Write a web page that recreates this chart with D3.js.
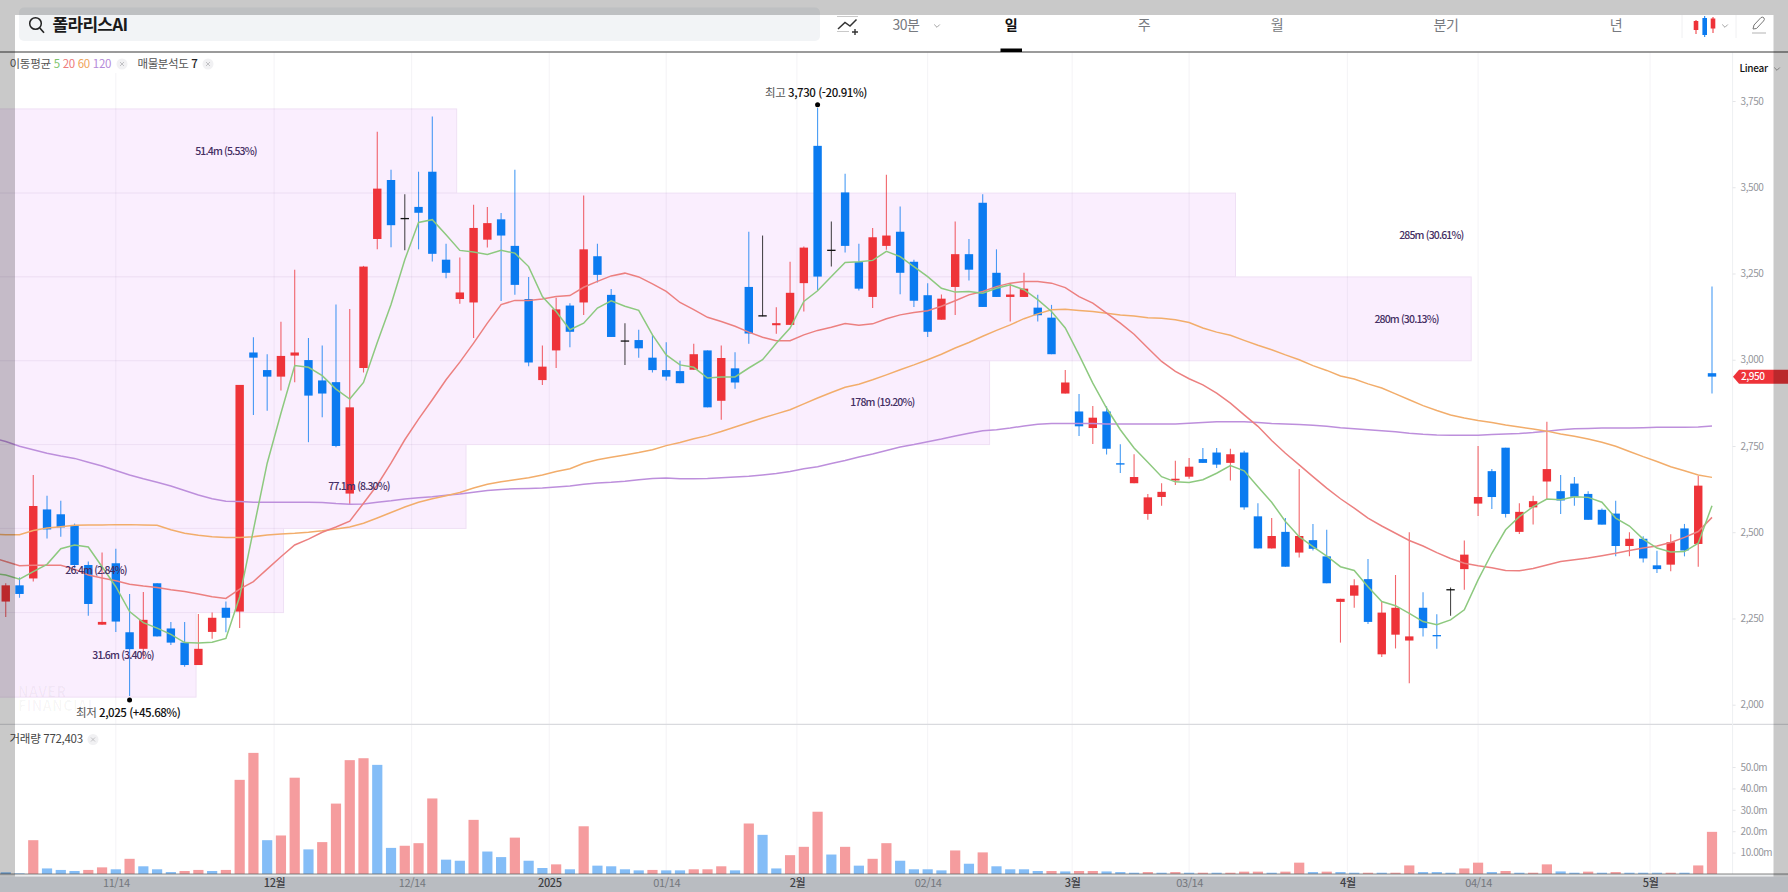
<!DOCTYPE html>
<html lang="ko"><head><meta charset="utf-8">
<script src="https://cdnjs.cloudflare.com/ajax/libs/d3/7.8.5/d3.min.js"></script>
<style>
html,body{margin:0;padding:0;background:#fff;overflow:hidden}
svg{display:block}
text{font-family:"Noto Sans CJK KR","Noto Sans",sans-serif}
.tick line{stroke:#e4e5e8}
.domain{stroke:#eef0f2}
</style></head><body><div id="chart"></div>
<script>
// ---- candle data (price), index 0..124
const opens=[2299,2346,2366,2566,2552,2521,2405,2232,2410,2210,
2162,2352,2221,2180,2115,2211,2281,2270,3021,2970,
2951,3012,2999,2940,2935,2612,2976,3350,3521,3411,
3443,3545,3290,3176,3166,3348,3407,3330,3176,2941,
3027,3157,3166,3300,3188,3056,3057,3006,2970,2967,
2971,3027,2881,2975,3211,3129,3100,3101,3222,3620,
3319,3485,3283,3182,3330,3371,3284,3187,3116,3211,
3306,3455,3252,3182,3182,3151,3122,2902,2850,2802,
2850,2700,2642,2553,2602,2650,2661,2712,2731,2701,
2731,2546,2453,2501,2441,2477,2430,2298,2316,2364,
2146,2203,2186,2281,2202,2335,2393,2583,2677,2745,
2501,2572,2647,2619,2641,2611,2565,2554,2460,2481,
2404,2406,2511,2466,2961];
const highs=[2352,2369,2666,2606,2591,2525,2415,2441,2452,2321,
2327,2352,2240,2240,2263,2267,2299,2927,3065,3016,
3110,3261,3063,3041,3160,3147,3272,3661,3551,3480,
3545,3705,3336,3296,3449,3443,3425,3551,3240,3041,
3180,3164,3476,3336,3205,3106,3087,3072,3051,2997,
3046,3027,3041,3022,3371,3360,3152,3284,3328,3730,
3401,3539,3336,3382,3536,3444,3290,3222,3189,3401,
3350,3480,3320,3221,3252,3188,3159,2970,2901,2866,
2865,2755,2726,2611,2642,2707,2715,2744,2744,2742,
2736,2584,2541,2541,2683,2524,2507,2307,2364,2422,
2300,2376,2500,2326,2262,2340,2476,2750,2683,2745,
2584,2606,2820,2666,2660,2619,2569,2591,2500,2488,
2446,2494,2524,2664,3212];
const lows=[2254,2310,2357,2482,2487,2396,2258,2232,2211,2025,
2132,2198,2173,2110,2115,2191,2210,2222,2840,2852,
2911,2935,2761,2833,2746,2581,2963,3320,3326,3317,
3320,3285,3236,3162,3063,3325,3170,3188,2981,2927,
2976,3036,3130,3224,3066,2985,3006,2963,2940,2932,
2971,2862,2826,2916,3046,3126,3075,3101,3140,3201,
3270,3311,3201,3150,3319,3190,3153,3066,3116,3130,
3230,3153,3182,3111,3182,3111,3016,2902,2779,2756,
2725,2672,2642,2536,2577,2637,2655,2701,2686,2650,
2565,2453,2453,2400,2427,2447,2352,2180,2281,2234,
2138,2163,2062,2198,2162,2258,2333,2547,2567,2543,
2495,2522,2594,2553,2577,2536,2522,2430,2430,2412,
2382,2387,2430,2400,2902];
const closes=[2346,2321,2576,2508,2514,2405,2292,2240,2241,2161,
2246,2198,2180,2115,2162,2252,2252,2927,3006,2951,
3011,3021,2896,2902,2750,2862,3270,3496,3390,3411,
3426,3307,3252,3195,3382,3396,3360,3217,2992,2980,
3146,3081,3320,3246,3066,3056,3033,2970,2951,2932,
3016,2862,3005,2934,3076,3129,3106,3194,3325,3241,
3319,3330,3206,3355,3360,3252,3171,3081,3177,3306,
3261,3153,3182,3189,3206,3129,3016,2934,2807,2832,
2742,2696,2660,2601,2617,2655,2690,2701,2696,2726,
2572,2453,2489,2400,2489,2452,2352,2307,2346,2240,
2267,2281,2198,2222,2199,2335,2435,2602,2602,2553,
2559,2590,2683,2592,2603,2536,2522,2460,2481,2424,
2393,2471,2447,2635,2951];

// ---- moving averages, index -1..124
const ma5=[2381,2376,2364,2386,2407,2452,2463,2457,2400,2342,2270,
2238,2222,2204,2180,2179,2181,2192,2313,2507,2700,
2845,2983,2978,2954,2915,2886,2934,3050,3160,3290,
3398,3406,3362,3317,3312,3305,3317,3309,3270,3183,
3140,3087,3106,3150,3171,3155,3143,3072,3014,2985,
2978,2947,2950,2950,2976,3000,3048,3092,3169,3200,
3241,3282,3284,3288,3314,3299,3270,3241,3207,3196,
3198,3193,3207,3217,3203,3174,3140,3092,3014,2932,
2860,2797,2744,2703,2661,2646,2644,2652,2671,2693,
2678,2632,2587,2531,2487,2458,2431,2400,2389,2342,
2299,2287,2265,2241,2232,2246,2275,2362,2439,2507,
2545,2574,2596,2594,2603,2601,2587,2541,2518,2480,
2454,2443,2444,2468,2577];
const ma20=[2428,2415,2403,2404,2404,2404,2393,2376,2367,2359,2349,
2344,2340,2333,2328,2321,2313,2308,2335,2357,2393,
2429,2463,2480,2500,2515,2532,2584,2637,2700,2768,
2828,2884,2942,2993,3048,3106,3160,3172,3172,3176,
3183,3186,3210,3227,3243,3251,3240,3220,3198,3166,
3145,3123,3111,3097,3080,3065,3055,3055,3072,3085,
3094,3105,3100,3104,3119,3130,3137,3142,3155,3171,
3188,3198,3212,3222,3227,3227,3222,3209,3183,3164,
3135,3106,3074,3034,2995,2966,2945,2927,2903,2874,
2840,2807,2766,2729,2695,2661,2628,2597,2570,2541,
2518,2497,2476,2460,2441,2424,2410,2403,2397,2389,
2388,2395,2405,2415,2420,2425,2432,2439,2447,2454,
2460,2470,2485,2502,2543];
const ma60=[2494,2493,2493,2505,2512,2516,2520,2521,2521,2522,2522,
2521,2520,2507,2497,2491,2487,2485,2485,2487,2492,
2495,2497,2500,2504,2509,2515,2526,2541,2557,2573,
2587,2597,2606,2615,2628,2639,2646,2652,2658,2666,
2676,2684,2700,2710,2717,2724,2731,2739,2751,2760,
2771,2780,2792,2805,2818,2831,2843,2855,2872,2889,
2905,2920,2929,2942,2956,2971,2985,3000,3016,3034,
3050,3068,3085,3101,3119,3133,3145,3146,3143,3140,
3135,3130,3127,3122,3120,3116,3108,3092,3080,3071,
3056,3042,3029,3014,3000,2983,2969,2953,2944,2930,
2918,2901,2884,2867,2853,2840,2831,2824,2818,2811,
2805,2799,2793,2785,2778,2770,2761,2749,2734,2719,
2705,2690,2678,2666,2659];
const ma120=[2773,2763,2749,2739,2729,2721,2714,2703,2692,2679,2666,
2655,2645,2634,2621,2608,2597,2590,2589,2587,2587,
2587,2587,2587,2586,2583,2581,2582,2587,2591,2596,
2600,2603,2607,2611,2616,2621,2624,2626,2627,2628,
2631,2634,2639,2643,2645,2648,2652,2656,2657,2655,
2655,2656,2658,2660,2662,2666,2670,2676,2684,2690,
2699,2708,2718,2727,2737,2747,2754,2762,2770,2779,
2787,2794,2797,2802,2808,2813,2815,2815,2815,2815,
2814,2814,2814,2814,2814,2814,2816,2818,2820,2820,
2820,2818,2815,2814,2812,2810,2807,2803,2800,2797,
2794,2791,2787,2784,2782,2781,2781,2781,2783,2785,
2786,2789,2793,2797,2800,2801,2802,2802,2802,2803,
2804,2804,2804,2805,2808];

// ---- volume (millions) and bar direction
const volumes=[.8,.3,15.8,2.6,1.9,1.4,1.9,3.1,2.2,7.1,
3.6,2.2,.9,1.4,1.9,1.4,1.9,44,56.6,15.8,
18,45,11.5,14.9,32.9,53.2,54.1,51,12.2,13.2,
14.4,35.3,6.7,6.2,25.3,10.5,7.9,17,6.2,2.8,
4.5,2.2,22.3,3.9,3.6,2.2,1.7,1.9,1.7,1.7,
2.2,2.2,3.6,1.7,23.6,18.3,2.6,8.8,12.7,29.1,
9.1,12.7,3.9,7.1,14.4,6.2,2.2,2.2,1.7,11,
4.8,10.1,3.6,2.2,2.2,1.4,1.4,1.2,1.4,1.4,
1.2,.9,.6,.9,.6,.9,.6,.6,.6,.6,
1.1,1.1,.6,1.1,5.3,.9,1.1,.9,.6,.6,
.6,.6,4,.9,.9,.6,2.6,5.3,.9,1.4,
.6,.6,4.5,1.2,.6,1.1,.6,.9,.6,.6,
.6,.6,.6,4,19.7];
const volDir="bbrbbbrrbr"+"bbbrrbrrrb"+"rrbrrrrbbr"+"rrbbrbbrbb"+"rbrbbbbrbb"+"rrrbrbbrrr"+"brbrrbbbbr"+"brbbbbrbrr"+"bbbrbrbrbr"+"rrbrrbrbbr"+"brrbbbrrbr"+"brrbbrbrbb"+"brbrr";

// ---- volume profile bins
const binEdges=[3727,3483,3240,2997,2754,2511,2267,2022];
const binEnd=[32.77,89.37,106.5,71.5,33.45,20.19,13.83];
const binLabelAt=[16,103.6,101.8,63.7,25.67,6.56,8.52];
const binLabels=["51.4m (5.53%)","285m (30.61%)","280m (30.13%)","178m (19.20%)","77.1m (8.30%)","26.4m (2.84%)","31.6m (3.40%)"];

// ---- axes
const priceTicks=[2000,2250,2500,2750,3000,3250,3500,3750];
const volTicks=[10,20,30,40,50];
const volTickLabels=["10.00m","20.0m","30.0m","40.0m","50.0m"];
const dateTicks=[8,19.5,29.5,39.5,48,57.5,67,77.5,86,97.5,107,119.5];
const dateLabels=["11/14","12월","12/14","2025","01/14","2월","02/14","3월","03/14","4월","04/14","5월"];
const dateStrong=[0,1,0,1,0,1,0,1,0,1,0,1];
const periods=[["30분",906],["일",1011],["주",1144],["월",1277],["분기",1446],["년",1616]];

const W=1788,H=892;
const svg=d3.select("#chart").append("svg").attr("width",W).attr("height",H);
const x=d3.scaleLinear().domain([0,124]).range([5.74,1712]);
const y=d3.scaleLinear().domain([2000,3750]).range([704.7,101]);
const v=d3.scaleLinear().domain([0,50]).range([874,767]);
const RED="#ee3339",BLUE="#0b7bf0";

svg.append("rect").attr("width",W).attr("height",H).attr("fill","#fff");

// volume profile boxes
const prof=svg.append("g");
prof.selectAll("rect").data(binEnd).join("rect")
 .attr("x",-2).attr("y",(d,i)=>y(binEdges[i]))
 .attr("width",d=>x(d)+2).attr("height",(d,i)=>y(binEdges[i+1])-y(binEdges[i]))
 .attr("fill","#faeefe").attr("stroke","#efe0f5").attr("stroke-width",1);

// grid
svg.append("g").selectAll("line").data(dateTicks).join("line")
 .attr("x1",d=>x(d)).attr("x2",d=>x(d)).attr("y1",52).attr("y2",874)
 .attr("stroke","#6a5a80").attr("stroke-opacity",.07);

// legend background
svg.append("rect").attr("x",0).attr("y",53).attr("width",215).attr("height",20).attr("fill","#fff");

// volume
svg.append("g").selectAll("rect").data(volumes).join("rect")
 .attr("x",(d,i)=>x(i)-5.1).attr("width",10.2)
 .attr("y",d=>v(d)).attr("height",d=>v(0)-v(d))
 .attr("fill",(d,i)=>volDir[i]==="r"?"#f59c9e":"#84bdf7");

// candles
const col=i=>closes[i]>opens[i]?RED:closes[i]<opens[i]?BLUE:"#111";
const cg=svg.append("g");
cg.selectAll("line").data(opens).join("line")
 .attr("x1",(d,i)=>x(i)).attr("x2",(d,i)=>x(i))
 .attr("y1",(d,i)=>y(highs[i])).attr("y2",(d,i)=>y(lows[i]))
 .attr("stroke",(d,i)=>col(i)).attr("stroke-opacity",.75).attr("stroke-width",1.1);
cg.selectAll("rect").data(opens).join("rect")
 .attr("x",(d,i)=>x(i)-4.2).attr("width",8.4)
 .attr("y",(d,i)=>y(Math.max(d,closes[i])))
 .attr("height",(d,i)=>Math.max(1.3,Math.abs(y(d)-y(closes[i]))))
 .attr("fill",(d,i)=>col(i));

// moving averages
const line=d3.line().x((d,i)=>x(i-1)).y(d=>y(d));
[[ma120,"#bd8fdc"],[ma60,"#f2ad6b"],[ma20,"#ec8080"],[ma5,"#8dc97f"]].forEach(([s,c])=>{
 svg.append("path").datum(s).attr("d",line).attr("fill","none").attr("stroke",c).attr("stroke-width",1.5);
});

// profile labels
svg.append("g").selectAll("text").data(binLabels).join("text")
 .attr("x",(d,i)=>x(binLabelAt[i])).attr("y",(d,i)=>(y(binEdges[i])+y(binEdges[i+1]))/2)
 .attr("dy","0.35em").attr("text-anchor","middle").attr("font-size",10.5).attr("font-weight",500).attr("letter-spacing",-0.85)
 .attr("fill","#452f63").text(d=>d);

// watermark
["NAVER","FINANCIAL"].forEach((t,i)=>svg.append("text").attr("x",18).attr("y",697+i*14)
 .attr("font-family","Roboto").attr("font-size",14).attr("font-weight",700).attr("letter-spacing",.5).attr("fill","#000").attr("fill-opacity",.035).text(t));

// high/low annotations
function note(idx,val,dotY,tx,ty,lab,rest){
 svg.append("circle").attr("cx",x(idx)).attr("cy",dotY).attr("r",2.5).attr("fill","#000");
 const t=svg.append("text").attr("x",tx).attr("y",ty).attr("dy","0.35em").attr("font-size",11.5).attr("letter-spacing",-0.45);
 t.append("tspan").attr("fill","#555").text(lab+" ");
 t.append("tspan").attr("fill","#111").attr("font-weight",500).text(rest);
}
note(59,3730,104.7,765,93,"최고","3,730 (-20.91%)");
note(9,2025,700,76,713,"최저","2,025 (+45.68%)");

// panel divider
svg.append("line").attr("x1",0).attr("x2",W).attr("y1",724.3).attr("y2",724.3).attr("stroke","#d9dade").attr("stroke-width",1.2);

// price axis
const ax=svg.append("g").attr("transform","translate(1732.6,0)")
 .call(d3.axisRight(y).tickValues(priceTicks).tickFormat(d3.format(",")).tickSize(3).tickPadding(5));
ax.select(".domain").attr("d","M0,52V874");
const av=svg.append("g").attr("transform","translate(1732.6,0)")
 .call(d3.axisRight(v).tickValues(volTicks).tickFormat((d,i)=>volTickLabels[i]).tickSize(3).tickPadding(5));
av.select(".domain").remove();
svg.selectAll("g.tick text").attr("font-family",'"Noto Sans CJK KR"').attr("font-size",10).attr("letter-spacing",-0.45).attr("fill","#94969c");

// current price tag
const py=y(closes[124]);
svg.append("path").attr("d",`M1733,${py}l6,-7H1788V${py+7}H1739Z`).attr("fill",RED);
svg.append("text").attr("x",1741).attr("y",py).attr("dy","0.35em").attr("font-size",10).attr("font-weight",500).attr("letter-spacing",-0.45).attr("fill","#fff").text(d3.format(",")(2950));

// baseline & x axis band
svg.append("rect").attr("x",0).attr("y",874).attr("width",W).attr("height",2.5).attr("fill","#eceef0");
svg.append("line").attr("x1",0).attr("x2",W).attr("y1",874).attr("y2",874).attr("stroke","#666").attr("stroke-width",.8);
svg.append("rect").attr("x",0).attr("y",876.5).attr("width",W).attr("height",H-876.5).attr("fill","#b9bcc1");
const ad=svg.append("g").attr("transform","translate(0,876.5)")
 .call(d3.axisBottom(x).tickValues(dateTicks).tickFormat((d,i)=>dateLabels[i]).tickSize(0).tickPadding(0));
ad.select(".domain").remove();
ad.selectAll("text").attr("y",6.5).attr("dy","0.35em").attr("font-size",11).attr("letter-spacing",-0.4)
 .attr("font-family",'"Noto Sans CJK KR"')
 .attr("fill",(d,i)=>dateStrong[i]?"#3e4044":"#74777d").attr("font-weight",(d,i)=>dateStrong[i]?500:400);

// top bar
svg.append("rect").attr("x",0).attr("y",0).attr("width",W).attr("height",51.5).attr("fill","#fff");
svg.append("line").attr("x1",0).attr("x2",W).attr("y1",52).attr("y2",52).attr("stroke","#7a7a7a").attr("stroke-width",1.4);
svg.append("rect").attr("x",19).attr("y",7.5).attr("width",801).attr("height",33.5).attr("rx",5).attr("fill","#f2f4f6");
svg.append("circle").attr("cx",35.5).attr("cy",23.5).attr("r",5.8).attr("fill","none").attr("stroke","#222").attr("stroke-width",1.5);
svg.append("path").attr("d","M39.8,28L44,32.8").attr("stroke","#222").attr("stroke-width",1.6).attr("fill","none");
svg.append("text").attr("x",52.5).attr("y",25.5).attr("dy","0.35em").attr("font-size",17).attr("font-weight",700).attr("letter-spacing",-0.7).attr("fill","#1a1a1a").text("폴라리스AI");

svg.append("g").selectAll("text").data(periods).join("text")
 .attr("x",d=>d[1]).attr("y",25.5).attr("dy","0.35em").attr("text-anchor","middle")
 .attr("font-size",14).attr("letter-spacing",-0.5)
 .attr("fill",d=>d[0]==="일"?"#111":"#777a80").attr("font-weight",d=>d[0]==="일"?700:400).text(d=>d[0]);
svg.append("rect").attr("x",1000.5).attr("y",48.5).attr("width",21.5).attr("height",3.5).attr("fill","#000");
const chev=(cx,cy)=>svg.append("path").attr("d",`M${cx-2.8},${cy-1.5}l2.8,2.8l2.8,-2.8`).attr("fill","none").attr("stroke","#999").attr("stroke-width",.9);
chev(937,26);chev(1725,26);chev(1777,69);
// draw-add icon
svg.append("path").attr("d","M838,29l7,-6.5l5,3.5l6.5,-6.5").attr("fill","none").attr("stroke","#333").attr("stroke-width",1.5);
svg.append("path").attr("d","M837,16.5H858M837,31.5H849").attr("fill","none").attr("stroke","#bbb").attr("stroke-width",.8);
svg.append("path").attr("d","M855,29V35M852,32H858").attr("fill","none").attr("stroke","#333").attr("stroke-width",1.4);
// candle-type icon
svg.append("path").attr("d","M1696,20V34").attr("stroke",RED).attr("stroke-width",1);
svg.append("path").attr("d","M1704.7,16V37").attr("stroke",BLUE).attr("stroke-width",1);
svg.append("path").attr("d","M1713,17V33").attr("stroke",RED).attr("stroke-width",1);
svg.append("rect").attr("x",1693.7).attr("y",21).attr("width",4.6).attr("height",9).attr("fill",RED);
svg.append("rect").attr("x",1702.4).attr("y",18).attr("width",4.6).attr("height",17).attr("fill",BLUE);
svg.append("rect").attr("x",1710.7).attr("y",18.5).attr("width",4.6).attr("height",10).attr("fill",RED);
svg.append("path").attr("d","M1682,15V38M1736,15V38").attr("stroke","#f0f0f2").attr("stroke-width",1);
// pencil icon
svg.append("path").attr("d","M1753,29l1,-4l7,-7.5q2,-1 3,0.5q1,1.5 -0.5,3l-7,7.5Z").attr("fill","none").attr("stroke","#777").attr("stroke-width",1);
svg.append("path").attr("d","M1752,33H1766").attr("stroke","#aaa").attr("stroke-width",.9);

// legends
function legend(ty,parts,cx){
 const t=svg.append("text").attr("x",9.6).attr("y",ty).attr("dy","0.35em").attr("font-size",11.5).attr("letter-spacing",-0.3);
 parts.forEach(([s,c,w])=>t.append("tspan").attr("fill",c).attr("font-weight",w||400).text(s));
}
const closeBtn=(cx,cy)=>{svg.append("circle").attr("cx",cx).attr("cy",cy).attr("r",5.5).attr("fill","#f1f1f3");
 svg.append("path").attr("d",`M${cx-2},${cy-2}l4,4m0,-4l-4,4`).attr("stroke","#b5b5b8").attr("stroke-width",.8);};
legend(64,[["이동평균 ","#555"],["5 ","#7cc46c"],["20 ","#ee7b7b"],["60 ","#f0a55c"],["120","#b58ad9"]]);
closeBtn(122,64);
svg.append("text").attr("x",137.5).attr("y",64).attr("dy","0.35em").attr("font-size",11.5).attr("letter-spacing",-0.4).attr("fill","#555").text("매물분석도 ").append("tspan").attr("fill","#222").attr("font-weight",500).text("7");
closeBtn(208,64);
legend(739,[["거래량 772,403","#444"]]);
closeBtn(93,739.5);
svg.append("text").attr("x",1739.5).attr("y",68).attr("dy","0.35em").attr("font-size",10).attr("letter-spacing",-0.3).attr("font-weight",500).attr("fill","#111").text("Linear");

// dim frame around the captured page
const dim="rgba(0,0,0,0.21)";
svg.append("rect").attr("x",0).attr("y",0).attr("width",W).attr("height",15).attr("fill",dim);
svg.append("rect").attr("x",0).attr("y",15).attr("width",15).attr("height",861.5).attr("fill",dim);
svg.append("rect").attr("x",1773.5).attr("y",15).attr("width",14.5).attr("height",861.5).attr("fill",dim);
</script></body></html>
